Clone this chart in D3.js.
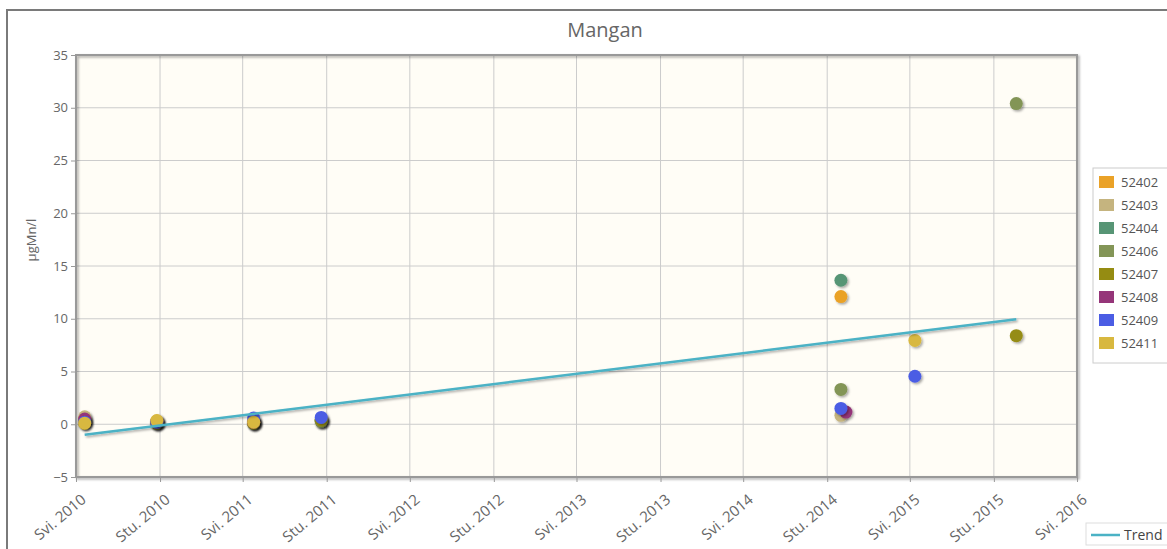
<!DOCTYPE html>
<html>
<head>
<meta charset="utf-8">
<script src="https://cdn.jsdelivr.net/npm/d3@7"></script>
<style>
  body { margin: 0; background: #fff; }
  text { font-family: "Open Sans", "DejaVu Sans", sans-serif; }
</style>
</head>
<body>
<div id="chart"></div>
<script>
const parseDate = d3.timeParse("%Y-%m-%d");

// sampling dates
const dates = ["2010-05-20", "2010-10-25", "2011-05-25", "2011-10-20", "2014-12-01", "2014-12-12", "2015-05-12", "2015-12-20"];

const seriesNames = ["52402", "52403", "52404", "52406", "52407", "52408", "52409", "52411"];
const seriesColors = ["#eaa228", "#c5b47f", "#579575", "#839557", "#958c12", "#953579", "#4b5de4", "#d8b83f"];

// values per series, null = no measurement on that date
const v52402 = [0.5, 0.3, 0.2, 0.3, 12.1, null, null, null];
const v52403 = [0.7, 0.2, 0.2, 0.3, 0.85, null, null, null];
const v52404 = [0.2, 0.1, 0.1, 0.3, 13.65, null, null, null];
const v52406 = [0.3, 0.1, 0.1, 0.3, 3.3, null, null, 30.4];
const v52407 = [0.1, 0.1, 0.1, 0.4, null, null, null, 8.4];
const v52408 = [0.5, 0.2, 0.2, null, null, 1.15, null, null];
const v52409 = [0.2, 0.2, 0.6, 0.65, 1.5, null, 4.55, null];
const v52411 = [0.1, 0.35, 0.2, null, null, null, 7.95, null];
const seriesValues = [v52402, v52403, v52404, v52406, v52407, v52408, v52409, v52411];

// trend line
const trendDates = ["2010-05-20", "2015-12-20"];
const trendValues = [-1.0, 9.95];
const trendColor = "#4bb2c5";

const xTickDates = ["2010-05-01", "2010-11-01", "2011-05-01", "2011-11-01", "2012-05-01", "2012-11-01",
  "2013-05-01", "2013-11-01", "2014-05-01", "2014-11-01", "2015-05-01", "2015-11-01", "2016-05-01"];
const xTickLabels = ["Svi. 2010", "Stu. 2010", "Svi. 2011", "Stu. 2011", "Svi. 2012", "Stu. 2012",
  "Svi. 2013", "Stu. 2013", "Svi. 2014", "Stu. 2014", "Svi. 2015", "Stu. 2015", "Svi. 2016"];
const yTicks = [-5, 0, 5, 10, 15, 20, 25, 30, 35];

const W = 1167, H = 549;
const plot = { left: 76, right: 1077, top: 55, bottom: 477 };

const svg = d3.select("#chart").append("svg")
  .attr("width", W).attr("height", H);

const defs = svg.append("defs");
defs.append("filter").attr("id", "shadow")
  .attr("x", "-50%").attr("y", "-50%").attr("width", "200%").attr("height", "200%")
  .append("feDropShadow")
  .attr("dx", 1.5).attr("dy", 1.5).attr("stdDeviation", 1)
  .attr("flood-color", "#000").attr("flood-opacity", 0.35);

// outer frame (extends past the window)
svg.append("rect")
  .attr("x", 7).attr("y", 10).attr("width", 1300).attr("height", 600)
  .attr("fill", "#fff").attr("stroke", "#7a7a7a").attr("stroke-width", 2);

const x = d3.scaleTime()
  .domain([parseDate(xTickDates[0]), parseDate(xTickDates[xTickDates.length - 1])])
  .range([plot.left, plot.right]);
const y = d3.scaleLinear().domain([-5, 35]).range([plot.bottom, plot.top]);

// title
svg.append("text")
  .attr("x", 605).attr("y", 37)
  .attr("text-anchor", "middle")
  .attr("font-size", 20).attr("fill", "#666")
  .text("Mangan");

// plot background
svg.append("rect")
  .attr("x", plot.left).attr("y", plot.top)
  .attr("width", plot.right - plot.left).attr("height", plot.bottom - plot.top)
  .attr("fill", "#fffdf6");

// grid
const grid = svg.append("g");
xTickDates.forEach(d => {
  grid.append("line")
    .attr("x1", x(parseDate(d))).attr("x2", x(parseDate(d)))
    .attr("y1", plot.top).attr("y2", plot.bottom)
    .attr("stroke", "#cccccc").attr("stroke-width", 1);
});
yTicks.forEach(t => {
  grid.append("line")
    .attr("x1", plot.left).attr("x2", plot.right)
    .attr("y1", y(t)).attr("y2", y(t))
    .attr("stroke", "#cccccc").attr("stroke-width", 1);
});

// plot border
svg.append("rect")
  .attr("x", plot.left).attr("y", plot.top)
  .attr("width", plot.right - plot.left).attr("height", plot.bottom - plot.top)
  .attr("fill", "none").attr("stroke", "#999").attr("stroke-width", 2)
  .attr("filter", "url(#shadow)");

// y axis
const yAxis = d3.axisLeft(y).tickValues(yTicks).tickSize(5).tickPadding(3);
const gy = svg.append("g").attr("transform", `translate(${plot.left},0)`).call(yAxis);
gy.select(".domain").remove();
gy.selectAll("line").attr("stroke", "#999");
gy.selectAll("text").attr("font-size", 13).attr("fill", "#666")
  .attr("font-family", "'Open Sans', 'DejaVu Sans', sans-serif");

// x axis
const xAxis = d3.axisBottom(x)
  .tickValues(xTickDates.map(parseDate))
  .tickFormat((d, i) => xTickLabels[i])
  .tickSize(5);
const gx = svg.append("g").attr("transform", `translate(0,${plot.bottom})`).call(xAxis);
gx.select(".domain").remove();
gx.selectAll("line").attr("stroke", "#999");
gx.selectAll("text")
  .attr("font-size", 15).attr("fill", "#666")
  .attr("font-family", "'Open Sans', 'DejaVu Sans', sans-serif")
  .attr("text-anchor", "end")
  .attr("dy", "0.35em")
  .attr("transform", "translate(2,14) rotate(-40)");

// y label
svg.append("text")
  .attr("transform", "translate(36,240) rotate(-90)")
  .attr("text-anchor", "middle")
  .attr("font-size", 13).attr("fill", "#666")
  .text("µgMn/l");

// points
seriesValues.forEach((vals, si) => {
  const pts = vals.map((v, i) => ({ date: parseDate(dates[i]), value: v })).filter(p => p.value !== null);
  svg.append("g").selectAll("circle")
    .data(pts).enter().append("circle")
    .attr("cx", d => x(d.date))
    .attr("cy", d => y(d.value))
    .attr("r", 6.5)
    .attr("fill", seriesColors[si])
    .attr("filter", "url(#shadow)");
});

// trend
const trend = trendDates.map((d, i) => ({ date: parseDate(d), value: trendValues[i] }));
svg.append("path")
  .datum(trend)
  .attr("d", d3.line().x(d => x(d.date)).y(d => y(d.value)))
  .attr("fill", "none")
  .attr("stroke", trendColor).attr("stroke-width", 2.5)
  .attr("filter", "url(#shadow)");

// series legend
const legend = svg.append("g");
legend.append("rect")
  .attr("x", 1093).attr("y", 168).attr("width", 100).attr("height", 195)
  .attr("fill", "#fff").attr("stroke", "#ccc");
seriesNames.forEach((name, i) => {
  const ly = 182 + i * 23;
  legend.append("rect")
    .attr("x", 1099).attr("y", ly - 6).attr("width", 15).attr("height", 12)
    .attr("fill", seriesColors[i]);
  legend.append("text")
    .attr("x", 1121).attr("y", ly + 4.5)
    .attr("font-size", 13).attr("fill", "#555")
    .text(name);
});

// trend legend
const tl = svg.append("g");
tl.append("rect")
  .attr("x", 1086).attr("y", 523).attr("width", 100).attr("height", 22)
  .attr("fill", "#fff").attr("stroke", "#ddd");
tl.append("line")
  .attr("x1", 1091).attr("x2", 1120).attr("y1", 535).attr("y2", 535)
  .attr("stroke", trendColor).attr("stroke-width", 2.5);
tl.append("text")
  .attr("x", 1124).attr("y", 540)
  .attr("font-size", 14).attr("fill", "#444")
  .text("Trend");
</script>
</body>
</html>
